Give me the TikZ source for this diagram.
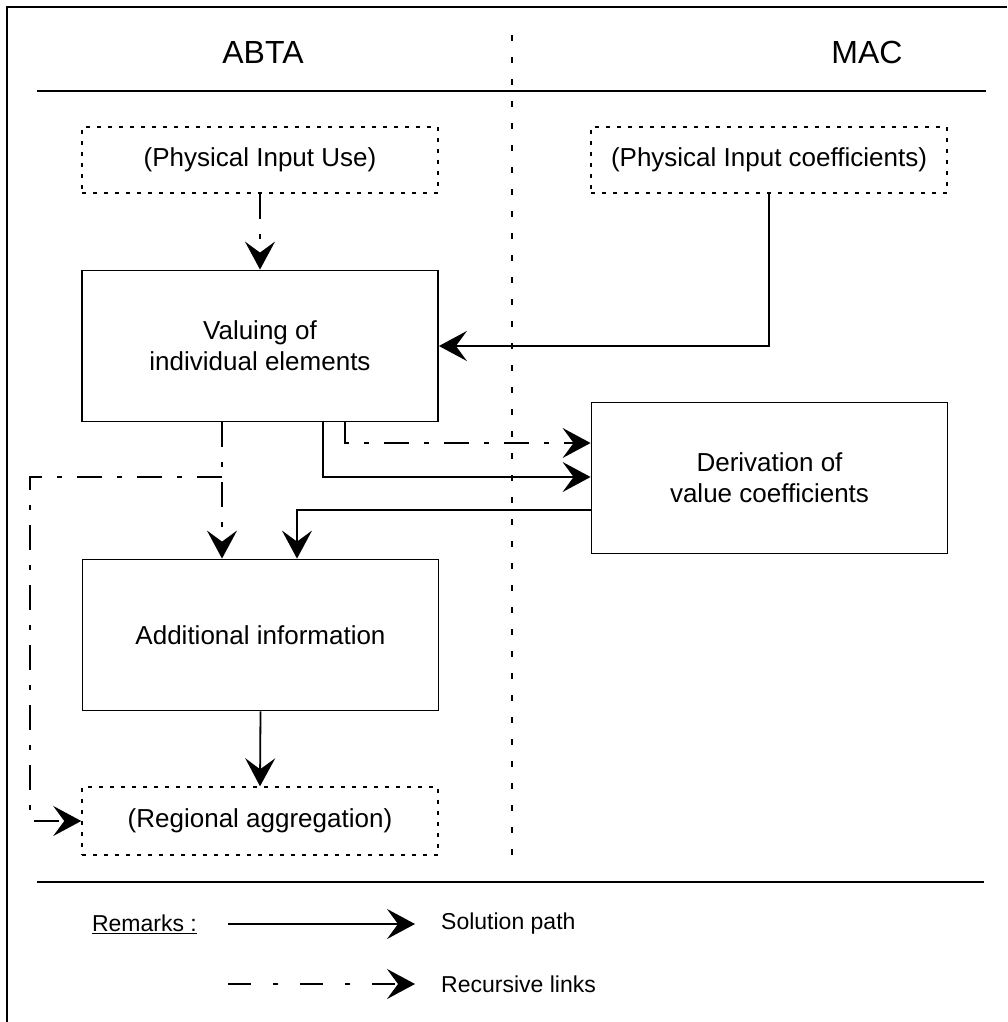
\documentclass[tikz,border=0pt]{standalone}
\usepackage{fontspec}
\setmainfont{Liberation Sans}
\usetikzlibrary{arrows.meta}
\begin{document}
\begin{tikzpicture}[x=1pt,y=-1pt,
  every node/.style={font=\fontsize{26}{31}\selectfont, align=center, inner sep=0pt},
  hdr/.style={font=\fontsize{32}{38}\selectfont},
  leg/.style={font=\fontsize{23}{28}\selectfont},
  box/.style={draw, line width=1.8pt, minimum width=356pt, minimum height=151pt},
  dbox/.style={draw, line width=1.5pt, dash pattern=on 4pt off 7pt, minimum width=356pt, minimum height=66pt},
  ln/.style={line width=1.8pt},
  dd/.style={line width=1.8pt, dash pattern=on 25pt off 15pt on 5pt off 15pt},
  ddleg/.style={line width=1.8pt, dash pattern=on 23pt off 22pt on 5pt off 22pt},
  tip/.style={-{Stealth[length=28pt,width=30pt,inset=11pt]}},
]
\useasboundingbox (0,0) rectangle (1007,1022);
% frame and separators
\draw[ln] (7,1022) -- (7,7) -- (1007,7);
\draw[ln] (37,91) -- (986,91);
\draw[ln] (37,882) -- (984,882);
\draw[line width=1.5pt, dash pattern=on 6pt off 16pt] (512,35) -- (512,865);
% headers
\node[hdr] (abta) at (263,52) {ABTA};
\node[hdr] (mac) at (867,52) {MAC};
% boxes
\node[dbox] (piu) at (260,160) {(Physical Input Use)};
\node[dbox] (pic) at (769,160) {(Physical Input coefficients)};
\node[box] (val) at (260,346) {Valuing of\\individual elements};
\node[box] (der) at (769.5,478) {Derivation of\\value coefficients};
\node[box] (add) at (260.5,635) {Additional information};
\node[dbox, minimum height=68pt] (reg) at (260,821) {(Regional aggregation)};
% connectors
\draw[dd,tip] (piu.south) -- (val.north);
\draw[ln,tip] (pic.south) |- (val.east);
\draw[dd,tip] (345,0 |- val.south) |- (der.west |- 0,443);
\draw[ln,tip] (323,0 |- val.south) |- (der.west |- 0,477);
\draw[ln,tip] (der.west |- 0,510) -| (297,0 |- add.north);
\draw[dd,tip] (222,0 |- val.south) -- (222,0 |- add.north);
\coordinate (j) at (222,477);
\draw[dd,tip] (j) -- (30,477) |- (reg.west);
\draw[ln,tip] (add.south) -- (reg.north);
% legend
\node[leg, anchor=east] (rem) at (197,924) {\underline{Remarks :}};
\coordinate (s1) at (228,924);
\coordinate (s2) at (415,924);
\coordinate (r1) at (228,984);
\coordinate (r2) at (415,984);
\draw[ln,tip] (s1) -- (s2);
\draw[ddleg,tip] (r1) -- (r2);
\node[leg, anchor=west] (sol) at (441,924) {Solution path};
\node[leg, anchor=west] (rec) at (441,984) {Recursive links};
\end{tikzpicture}
\end{document}
